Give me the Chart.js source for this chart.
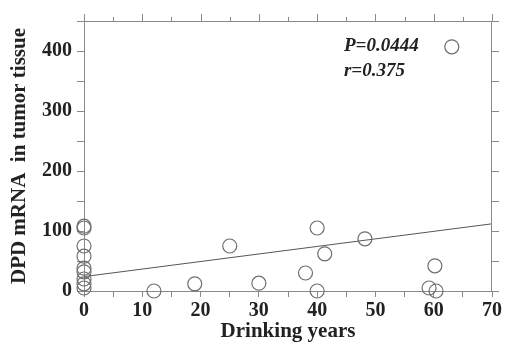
<!DOCTYPE html>
<html>
<head>
<meta charset="utf-8">
<script src="https://cdn.jsdelivr.net/npm/chart.js@4/dist/chart.umd.min.js"></script>
<style>
html,body{margin:0;padding:0;background:#fff;}
#wrap{width:505px;height:349px;}
</style>
</head>
<body>
<div id="wrap"><canvas id="c" width="505" height="349"></canvas></div>
<script>
const drinkingYears = [0, 0, 0, 0, 0, 0, 0, 0, 0, 12, 19, 25, 30, 38, 40, 40, 41.3, 48.2, 59.2, 60.2, 60.4, 63.1];
const dpdMrna       = [108, 105, 75, 58, 38, 32, 20, 12, 5, 0, 12, 75, 13, 30, 105, 0, 62, 87, 5, 42, 0, 407];
const fitX = [0, 70];
const fitY = [24, 112];
const xTicks = [0, 10, 20, 30, 40, 50, 60, 70];
const yTicks = [0, 100, 200, 300, 400];
const annotations = ['P=0.0444', 'r=0.375'];
const annotationPos = [[44.6, 408], [44.6, 366]];

const axisColor = '#8a8a8a';
const textColor = '#222';
const serif = "'Liberation Serif', 'Times New Roman', serif";

const framePlugin = {
  id: 'frame',
  afterDatasetsDraw(chart) {
    const {ctx, chartArea: a, scales: {x, y}} = chart;
    ctx.save();
    ctx.strokeStyle = axisColor;
    ctx.lineWidth = 1;
    ctx.beginPath();
    ctx.moveTo(a.left, a.top + 0.5); ctx.lineTo(a.right, a.top + 0.5);
    ctx.moveTo(a.right - 0.5, a.top); ctx.lineTo(a.right - 0.5, a.bottom);
    for (let v = 0; v <= 70; v += 5) {
      const px = Math.round(x.getPixelForValue(v)) + 0.5;
      const len = v % 10 === 0 ? 7 : 4;
      ctx.moveTo(px, a.top); ctx.lineTo(px, a.top - len);
    }
    for (let v = 0; v <= 450; v += 50) {
      const py = Math.round(y.getPixelForValue(v)) + 0.5;
      ctx.moveTo(a.right, py); ctx.lineTo(a.right + 7, py);
    }
    ctx.stroke();
    ctx.fillStyle = textColor;
    ctx.font = "italic bold 19px " + serif;
    ctx.textBaseline = 'middle';
    ctx.textAlign = 'left';
    annotations.forEach((t, i) => {
      ctx.fillText(t, x.getPixelForValue(annotationPos[i][0]), y.getPixelForValue(annotationPos[i][1]));
    });
    ctx.restore();
  }
};

new Chart(document.getElementById('c'), {
  type: 'scatter',
  data: {
    datasets: [
      {
        type: 'line',
        data: fitX.map((v, i) => ({x: v, y: fitY[i]})),
        borderColor: '#555',
        borderWidth: 1,
        pointRadius: 0,
        fill: false,
        order: 2
      },
      {
        data: drinkingYears.map((v, i) => ({x: v, y: dpdMrna[i]})),
        pointStyle: 'circle',
        pointRadius: 7,
        pointBorderColor: '#6e6e6e',
        pointBackgroundColor: 'rgba(0,0,0,0)',
        pointBorderWidth: 1.2,
        clip: false,
        order: 1
      }
    ]
  },
  options: {
    responsive: false,
    animation: false,
    devicePixelRatio: 1,
    layout: {padding: {top: 21, right: 13, left: 0, bottom: 0}},
    plugins: {legend: {display: false}, tooltip: {enabled: false}},
    scales: {
      x: {
        type: 'linear', min: 0, max: 70,
        afterFit: s => { s.height = 58; },
        afterBuildTicks: s => { const t = []; for (let v = 0; v <= 70; v += 5) t.push({value: v}); s.ticks = t; },
        border: {color: axisColor, width: 1},
        grid: {drawOnChartArea: false, drawTicks: true, tickLength: 6, color: axisColor},
        ticks: {
          color: textColor, padding: 2, maxRotation: 0, autoSkip: false,
          font: {family: serif, size: 20, weight: 'bold'},
          callback: v => xTicks.includes(v) ? String(v) : ''
        },
        title: {display: true, text: 'Drinking years', color: textColor, padding: {top: 0, bottom: 5},
          font: {family: serif, size: 21, weight: 'bold'}}
      },
      y: {
        type: 'linear', min: 0, max: 450,
        afterFit: s => { s.width = 84; },
        afterBuildTicks: s => { const t = []; for (let v = 0; v <= 450; v += 50) t.push({value: v}); s.ticks = t; },
        border: {color: axisColor, width: 1},
        grid: {drawOnChartArea: false, drawTicks: true, tickLength: 7, color: axisColor},
        ticks: {
          color: textColor, padding: 5, autoSkip: false,
          font: {family: serif, size: 20, weight: 'bold'},
          callback: v => yTicks.includes(v) ? String(v) : ''
        },
        title: {display: true, text: 'DPD mRNA  in tumor tissue', color: textColor, padding: {top: 7, bottom: 0},
          font: {family: serif, size: 21, weight: 'bold'}}
      }
    }
  },
  plugins: [framePlugin]
});
</script>
</body>
</html>
